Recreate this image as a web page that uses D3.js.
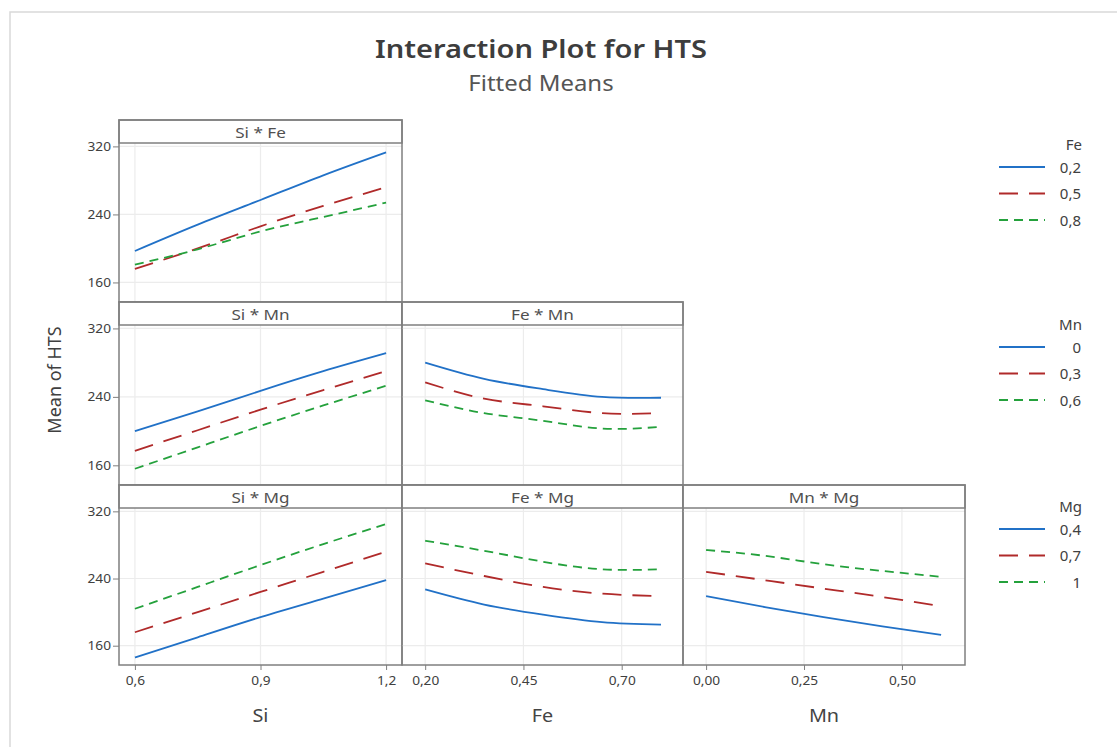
<!DOCTYPE html>
<html><head><meta charset="utf-8">
<script src="https://cdn.jsdelivr.net/npm/d3@7"></script>
<style>
html,body{margin:0;padding:0;background:#fff;}
svg{display:block;font-family:"Noto Sans","Open Sans",sans-serif;}
</style></head>
<body><svg id="c" width="1117" height="747"></svg>
<script>
// ---- data ----
const siX = [0.6, 0.75, 0.9, 1.05, 1.2];
const feX = [0.2, 0.35, 0.5, 0.65, 0.8];
const mnX = [0, 0.15, 0.3, 0.45, 0.6];

const feLevels = ["0,2", "0,5", "0,8"];
const mnLevels = ["0", "0,3", "0,6"];
const mgLevels = ["0,4", "0,7", "1"];

const siFe_fe02 = [197, 228, 257, 286, 313];
const siFe_fe05 = [176, 200, 226, 250, 272];
const siFe_fe08 = [181, 199, 220, 237, 254];

const siMn_mn0  = [200, 223, 247, 270, 291];
const siMn_mn03 = [177, 201, 225, 248, 270];
const siMn_mn06 = [156, 181, 206, 230, 253];

const feMn_mn0  = [280, 261, 249, 240, 239];
const feMn_mn03 = [257, 238, 229, 221, 221];
const feMn_mn06 = [236, 221, 212, 203, 205];

const siMg_mg04 = [146, 170, 194, 216, 238];
const siMg_mg07 = [176, 200, 224, 248, 272];
const siMg_mg1  = [204, 230, 256, 281, 305];

const feMg_mg04 = [227, 209, 197, 188, 185];
const feMg_mg07 = [258, 243, 230, 222, 219];
const feMg_mg1  = [285, 273, 260, 251, 251];

const mnMg_mg04 = [219, 206, 194, 183, 173];
const mnMg_mg07 = [248, 238, 228, 218, 207];
const mnMg_mg1  = [274, 267, 257, 249, 242];

const yTicks = [160, 240, 320];
const siTicks = [0.6, 0.9, 1.2], siTickLabels = ["0,6", "0,9", "1,2"];
const feTicks = [0.2, 0.45, 0.7], feTickLabels = ["0,20", "0,45", "0,70"];
const mnTicks = [0, 0.25, 0.5], mnTickLabels = ["0,00", "0,25", "0,50"];

// ---- styles ----
const colors = ["#2171c7", "#b02a2a", "#24a13c"];
const dashes = [null, "19,11", "9,6"];
const svg = d3.select("#c");

// widen text horizontally like the reference rendering
function stretch(sel, k) {
  sel.each(function () {
    const w = this.getComputedTextLength();
    this.setAttribute("textLength", w * k);
    this.setAttribute("lengthAdjust", "spacingAndGlyphs");
  });
}

// outer frame
svg.append("rect").attr("x", 10).attr("y", 12).attr("width", 1130).attr("height", 760)
  .attr("fill", "none").attr("stroke", "#d9d9d9").attr("stroke-width", 1.5);

// title
svg.append("text").attr("x", 541).attr("y", 58).attr("text-anchor", "middle")
  .attr("font-size", 25).attr("font-weight", 600).attr("fill", "#3d3d3d").text("Interaction Plot for HTS")
  .call(stretch, 1.16);
svg.append("text").attr("x", 541).attr("y", 91).attr("text-anchor", "middle")
  .attr("font-size", 21).attr("fill", "#555").text("Fitted Means")
  .call(stretch, 1.14);

// layout
const cols = [
  {x0: 119, x1: 402, dom: [0.562, 1.238], ticks: siTicks, labels: siTickLabels, xs: siX, name: "Si"},
  {x0: 402, x1: 683, dom: [0.141, 0.856], ticks: feTicks, labels: feTickLabels, xs: feX, name: "Fe"},
  {x0: 683, x1: 965, dom: [-0.059, 0.661], ticks: mnTicks, labels: mnTickLabels, xs: mnX, name: "Mn"}
];
const rows = [
  {top: 120, bottom: 302, name: "Fe", levels: feLevels},
  {top: 302, bottom: 485, name: "Mn", levels: mnLevels},
  {top: 485, bottom: 665, name: "Mg", levels: mgLevels}
];
const headerH = 23;
const yDom = [137, 324];

const panels = [
  {r: 0, c: 0, series: [siFe_fe02, siFe_fe05, siFe_fe08]},
  {r: 1, c: 0, series: [siMn_mn0, siMn_mn03, siMn_mn06]},
  {r: 1, c: 1, series: [feMn_mn0, feMn_mn03, feMn_mn06]},
  {r: 2, c: 0, series: [siMg_mg04, siMg_mg07, siMg_mg1]},
  {r: 2, c: 1, series: [feMg_mg04, feMg_mg07, feMg_mg1]},
  {r: 2, c: 2, series: [mnMg_mg04, mnMg_mg07, mnMg_mg1]}
];

panels.forEach(p => {
  const col = cols[p.c], row = rows[p.r];
  const pTop = row.top + headerH;
  const x = d3.scaleLinear().domain(col.dom).range([col.x0, col.x1]);
  const y = d3.scaleLinear().domain(yDom).range([row.bottom, pTop]);
  const g = svg.append("g");
  // gridlines
  g.selectAll(".gx").data(col.ticks).enter().append("line")
    .attr("x1", d => x(d)).attr("x2", d => x(d)).attr("y1", pTop).attr("y2", row.bottom)
    .attr("stroke", "#ececec").attr("stroke-width", 1.2);
  g.selectAll(".gy").data(yTicks).enter().append("line")
    .attr("x1", col.x0).attr("x2", col.x1).attr("y1", d => y(d)).attr("y2", d => y(d))
    .attr("stroke", "#ececec").attr("stroke-width", 1.2);
  // lines
  const line = d3.line().x((d, i) => x(col.xs[i])).y(d => y(d)).curve(d3.curveNatural);
  p.series.forEach((s, i) => {
    g.append("path").datum(s).attr("d", line).attr("fill", "none")
      .attr("stroke", colors[i]).attr("stroke-width", 1.8)
      .attr("stroke-dasharray", dashes[i]);
  });
  // header + border
  g.append("rect").attr("x", col.x0).attr("y", row.top).attr("width", col.x1 - col.x0).attr("height", headerH)
    .attr("fill", "#fff").attr("stroke", "#7f7f7f").attr("stroke-width", 1.5);
  g.append("rect").attr("x", col.x0).attr("y", row.top).attr("width", col.x1 - col.x0).attr("height", row.bottom - row.top)
    .attr("fill", "none").attr("stroke", "#7f7f7f").attr("stroke-width", 1.5);
  g.append("text").attr("x", (col.x0 + col.x1) / 2).attr("y", row.top + 18).attr("text-anchor", "middle")
    .attr("font-size", 15).attr("fill", "#505050").text(col.name + " * " + row.name)
    .call(stretch, 1.14);
  // y axis on left column
  if (p.c === 0) {
    const ax = svg.append("g").attr("transform", `translate(${col.x0},0)`)
      .call(d3.axisLeft(y).tickValues(yTicks).tickSize(6).tickPadding(2));
    ax.select(".domain").remove();
    ax.selectAll("line").attr("stroke", "#7f7f7f");
    ax.selectAll("text").attr("font-size", 12).attr("fill", "#404040").attr("font-family", "Noto Sans")
      .call(stretch, 1.14);
  }
  // x axis on bottom row
  if (p.r === 2) {
    const ax = svg.append("g").attr("transform", `translate(0,${row.bottom})`)
      .call(d3.axisBottom(x).tickValues(col.ticks).tickFormat((d, i) => col.labels[i]).tickSize(5).tickPadding(6));
    ax.select(".domain").remove();
    ax.selectAll("line").attr("stroke", "#7f7f7f");
    ax.selectAll("text").attr("font-size", 12).attr("fill", "#404040").attr("font-family", "Noto Sans")
      .call(stretch, 1.14);
    svg.append("text").attr("x", (col.x0 + col.x1) / 2).attr("y", 722).attr("text-anchor", "middle")
      .attr("font-size", 18).attr("fill", "#444").text(col.name)
      .call(stretch, 1.1);
  }
});

// y axis title
svg.append("text").attr("transform", "translate(61,380) rotate(-90)").attr("text-anchor", "middle")
  .attr("font-size", 18).attr("fill", "#404040").text("Mean of HTS");

// legends
const legends = [
  {title: "Fe", levels: feLevels, top: 145},
  {title: "Mn", levels: mnLevels, top: 325},
  {title: "Mg", levels: mgLevels, top: 507}
];
legends.forEach(L => {
  const g = svg.append("g");
  g.append("text").attr("x", 1082).attr("y", L.top + 5).attr("text-anchor", "end")
    .attr("font-size", 15).attr("fill", "#404040").text(L.title);
  L.levels.forEach((lv, i) => {
    const yy = L.top + 22 + i * 26.5;
    g.append("line").attr("x1", 999).attr("x2", 1045).attr("y1", yy).attr("y2", yy)
      .attr("stroke", colors[i]).attr("stroke-width", 1.8).attr("stroke-dasharray", dashes[i]);
    g.append("text").attr("x", 1081).attr("y", yy + 5.5).attr("text-anchor", "end")
      .attr("font-size", 15).attr("fill", "#404040").text(lv);
  });
});
</script></body></html>
